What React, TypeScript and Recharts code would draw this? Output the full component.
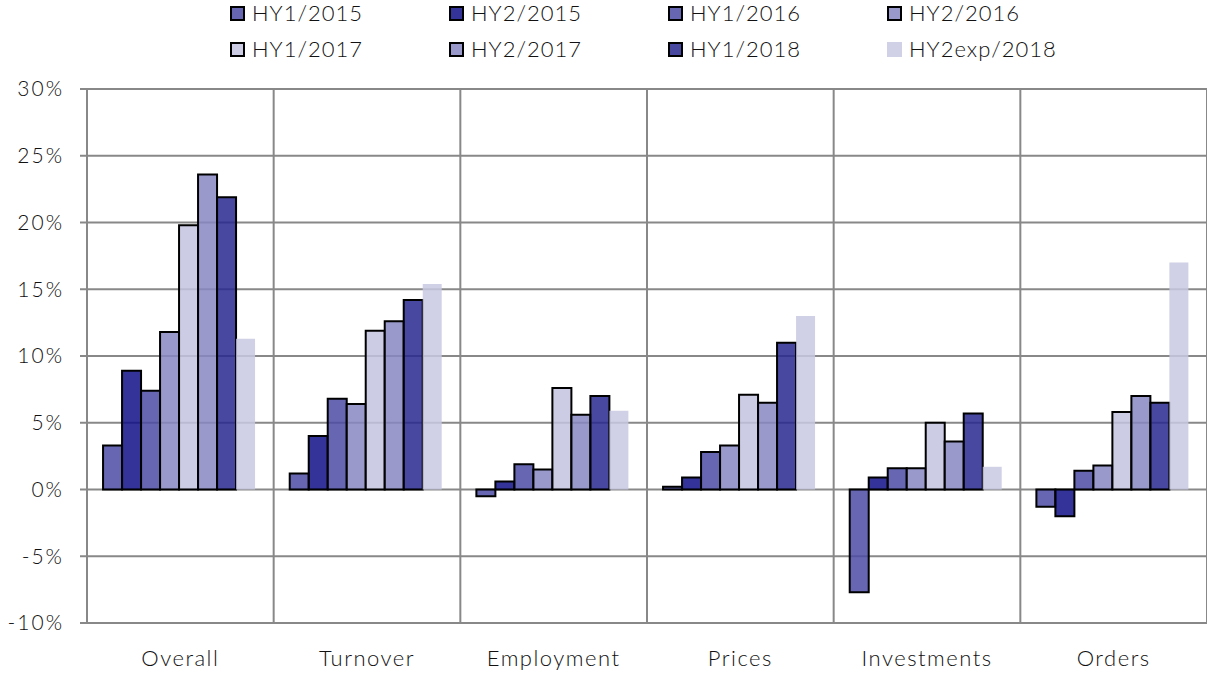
import { BarChart, Bar, XAxis, YAxis, CartesianGrid } from 'recharts';

const categories = ['Overall', 'Turnover', 'Employment', 'Prices', 'Investments', 'Orders'];

const seriesNames = [
  'HY1/2015',
  'HY2/2015',
  'HY1/2016',
  'HY2/2016',
  'HY1/2017',
  'HY2/2017',
  'HY1/2018',
  'HY2exp/2018',
];

// one array per half-year, in category order (%)
const hy1_2015 = [3.3, 1.2, -0.5, 0.2, -7.7, -1.3];
const hy2_2015 = [8.9, 4.0, 0.6, 0.9, 0.9, -2.0];
const hy1_2016 = [7.4, 6.8, 1.9, 2.8, 1.6, 1.4];
const hy2_2016 = [11.8, 6.4, 1.5, 3.3, 1.6, 1.8];
const hy1_2017 = [19.8, 11.9, 7.6, 7.1, 5.0, 5.8];
const hy2_2017 = [23.6, 12.6, 5.6, 6.5, 3.6, 7.0];
const hy1_2018 = [21.9, 14.2, 7.0, 11.0, 5.7, 6.5];
const hy2exp_2018 = [11.3, 15.4, 5.9, 13.0, 1.7, 17.0];

const yTicks = [-10, -5, 0, 5, 10, 15, 20, 25, 30];

const seriesValues = [hy1_2015, hy2_2015, hy1_2016, hy2_2016, hy1_2017, hy2_2017, hy1_2018, hy2exp_2018];

// colours are pre-compensated for the 0.85 opacity so the grid shows through
const fills = ['#4b4ba6', '#0f0f87', '#4b4ba6', '#8787c3', '#c3c3e0', '#8787c3', '#28288f', '#c8c8e2'];
const legendColors = ['#6666b3', '#333399', '#6666b3', '#9999cc', '#ccccE5', '#9999cc', '#4848a0', '#d0d0e6'];

const data = categories.map((name, i) => {
  const row: Record<string, string | number> = { name };
  seriesNames.forEach((s, j) => {
    row[s] = seriesValues[j][i];
  });
  return row;
});

const FONT = 'Lato, "DejaVu Sans", sans-serif';
const GRID = '#888888';
const TEXT = '#111';

function TopLegend() {
  return (
    <div
      style={{
        position: 'absolute',
        left: 230,
        top: 2,
        display: 'grid',
        gridTemplateColumns: 'repeat(4, 219px)',
        rowGap: 14,
        fontFamily: FONT,
        fontWeight: 300,
        fontSize: 22,
        lineHeight: '22px',
        letterSpacing: '1px',
        color: TEXT,
      }}
    >
      {seriesNames.map((s, i) => {
        const last = i === seriesNames.length - 1;
        return (
          <div key={s} style={{ display: 'flex', alignItems: 'center', height: 22, whiteSpace: 'nowrap' }}>
            <span
              style={{
                display: 'inline-block',
                boxSizing: 'border-box',
                width: 15,
                height: 15,
                background: legendColors[i],
                border: last ? 'none' : '2px solid #000',
                marginRight: 7,
              }}
            />
            <span>{s}</span>
          </div>
        );
      })}
    </div>
  );
}

export default function App() {
  return (
    <div style={{ position: 'absolute', left: 0, top: 0, width: 1207, height: 675, background: '#fff' }}>
      <TopLegend />
      <BarChart
        width={1207}
        height={675}
        data={data}
        margin={{ top: 89, right: 0, left: 0, bottom: 0 }}
        barCategoryGap="8.6%"
        barGap={0}
      >
        <CartesianGrid
          stroke={GRID}
          strokeWidth={2}
          verticalCoordinatesGenerator={({ offset }: any) =>
            categories.map((_, i) => offset.left + (offset.width * (i + 1)) / categories.length)
          }
        />
        <XAxis
          dataKey="name"
          height={52}
          tickLine={false}
          tickSize={0}
          tickMargin={27}
          axisLine={{ stroke: GRID, strokeWidth: 2 }}
          tick={{ fontFamily: FONT, fontWeight: 300, fontSize: 22, letterSpacing: 1.5, fill: TEXT }}
        />
        <YAxis
          width={87}
          domain={[-10, 30]}
          ticks={yTicks}
          interval={0}
          tickSize={7}
          tickMargin={16}
          tickFormatter={(v: number) => `${v}%`}
          axisLine={{ stroke: GRID, strokeWidth: 2 }}
          tickLine={{ stroke: GRID, strokeWidth: 2 }}
          tick={{ fontFamily: FONT, fontWeight: 300, fontSize: 21, letterSpacing: 2, fill: TEXT }}
        />
        {seriesNames.map((s, i) => (
          <Bar
            key={s}
            dataKey={s}
            fill={fills[i]}
            fillOpacity={0.85}
            stroke={i === seriesNames.length - 1 ? 'none' : '#000'}
            strokeWidth={2}
            isAnimationActive={false}
          />
        ))}
      </BarChart>
    </div>
  );
}
